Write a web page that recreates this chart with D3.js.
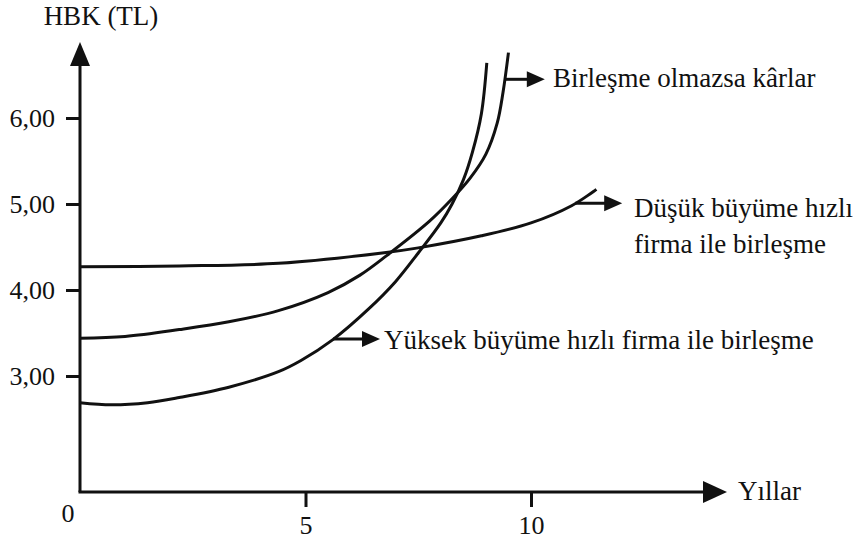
<!DOCTYPE html>
<html>
<head>
<meta charset="utf-8">
<script src="https://cdn.jsdelivr.net/npm/d3@7"></script>
<style>
  body { margin: 0; background: #fff; }
  svg text { font-family: "Liberation Serif", "Times New Roman", "DejaVu Serif", serif; fill: #111; }
</style>
</head>
<body>
<script>
// data
const yTicks = [3, 4, 5, 6];
const xTicks = [5, 10];

const noMergerYears = [0, 1, 2.2, 3.3, 4.4, 5.5, 6.2, 6.8, 7.75, 8.25, 8.65, 9.0, 9.25, 9.38, 9.5];
const noMergerVals  = [3.44, 3.46, 3.54, 3.63, 3.76, 3.97, 4.17, 4.40, 4.80, 5.06, 5.30, 5.58, 5.94, 6.30, 6.76];

const lowYears = [0, 2.2, 4.4, 6.7, 7.5, 8.9, 10, 10.9, 11.45];
const lowVals  = [4.27, 4.28, 4.31, 4.43, 4.49, 4.63, 4.78, 4.98, 5.17];

const highYears = [0, 0.7, 1.5, 2.2, 3.3, 4.4, 4.9, 5.6, 6.4, 7.0, 7.5, 8.0, 8.25, 8.5, 8.7, 8.9, 9.02];
const highVals  = [2.69, 2.665, 2.69, 2.75, 2.87, 3.05, 3.18, 3.42, 3.78, 4.10, 4.43, 4.78, 5.00, 5.28, 5.60, 6.05, 6.64];

const width = 857, height = 542;
const serif = '"Liberation Serif", "Times New Roman", "DejaVu Serif", serif';

const svg = d3.select('body')
  .append('svg')
  .attr('width', width)
  .attr('height', height);

const x = d3.scaleLinear().domain([0, 10]).range([80, 531]);
const y = d3.scaleLinear().domain([3, 6]).range([376, 118]);

const axisY0 = 492;   // where the x axis sits (broken y scale)
const axisTop = 42;
const axisRight = 727;

// axis lines
svg.append('line')
  .attr('x1', x(0)).attr('y1', axisY0)
  .attr('x2', x(0)).attr('y2', axisTop + 20)
  .attr('stroke', '#111').attr('stroke-width', 3);

svg.append('line')
  .attr('x1', x(0) - 1.5).attr('y1', axisY0)
  .attr('x2', axisRight - 20).attr('y2', axisY0)
  .attr('stroke', '#111').attr('stroke-width', 3);

// arrow heads on the axes
svg.append('path')
  .attr('d', `M${x(0)},${axisTop} L${x(0) - 10},${axisTop + 24} L${x(0) + 10},${axisTop + 24} Z`)
  .attr('fill', '#111');

svg.append('path')
  .attr('d', `M${axisRight},${axisY0} L${axisRight - 24},${axisY0 - 11} L${axisRight - 24},${axisY0 + 11} Z`)
  .attr('fill', '#111');

// ticks
const yAxis = svg.append('g')
  .attr('transform', `translate(${x(0)},0)`)
  .call(d3.axisLeft(y).tickValues(yTicks).tickSize(14).tickPadding(11)
    .tickFormat(d => d3.format('.2f')(d).replace('.', ',')));

const xAxis = svg.append('g')
  .attr('transform', `translate(0,${axisY0})`)
  .call(d3.axisBottom(x).tickValues(xTicks).tickSize(15).tickPadding(9));

[yAxis, xAxis].forEach(g => {
  g.attr('font-family', serif).attr('font-size', 26);
  g.select('.domain').remove();
  g.selectAll('.tick line').attr('stroke', '#111').attr('stroke-width', 3);
  g.selectAll('.tick text').attr('fill', '#111');
});

svg.append('text')
  .attr('x', 68).attr('y', 522)
  .attr('text-anchor', 'middle')
  .attr('font-size', 26)
  .text('0');

// axis titles
svg.append('text')
  .attr('x', 101).attr('y', 25)
  .attr('text-anchor', 'middle')
  .attr('font-size', 27)
  .text('HBK (TL)');

svg.append('text')
  .attr('x', 738).attr('y', 500)
  .attr('font-size', 27)
  .text('Yıllar');

// curves
const line = d3.line()
  .x(d => x(d[0]))
  .y(d => y(d[1]))
  .curve(d3.curveCatmullRom.alpha(0.5));

const series = [
  d3.zip(noMergerYears, noMergerVals),
  d3.zip(lowYears, lowVals),
  d3.zip(highYears, highVals)
];

svg.append('g')
  .selectAll('path')
  .data(series)
  .join('path')
  .attr('d', line)
  .attr('fill', 'none')
  .attr('stroke', '#111')
  .attr('stroke-width', 3);

// label arrows: start on the curve, go right
const notes = [
  { year: 9.42, val: 6.45, len: 40, lines: ['Birleşme olmazsa kârlar'], tx: 553, dy: 8 },
  { year: 10.98, val: 5.01, len: 47, lines: ['Düşük büyüme hızlı', 'firma ile birleşme'], tx: 634, dy: 14 },
  { year: 5.61, val: 3.43, len: 47, lines: ['Yüksek büyüme hızlı firma ile birleşme'], tx: 384, dy: 10 }
];

notes.forEach(n => {
  const x0 = x(n.year), y0 = y(n.val);
  const tip = x0 + n.len;
  svg.append('line')
    .attr('x1', x0).attr('y1', y0)
    .attr('x2', tip - 10).attr('y2', y0)
    .attr('stroke', '#111').attr('stroke-width', 3);
  svg.append('path')
    .attr('d', `M${tip},${y0} L${tip - 18},${y0 - 8} L${tip - 18},${y0 + 8} Z`)
    .attr('fill', '#111');
  const t = svg.append('text')
    .attr('x', n.tx).attr('y', y0 + n.dy)
    .attr('font-size', 27);
  n.lines.forEach((s, i) => {
    t.append('tspan')
      .attr('x', n.tx)
      .attr('dy', i === 0 ? 0 : 36)
      .text(s);
  });
});
</script>
</body>
</html>
